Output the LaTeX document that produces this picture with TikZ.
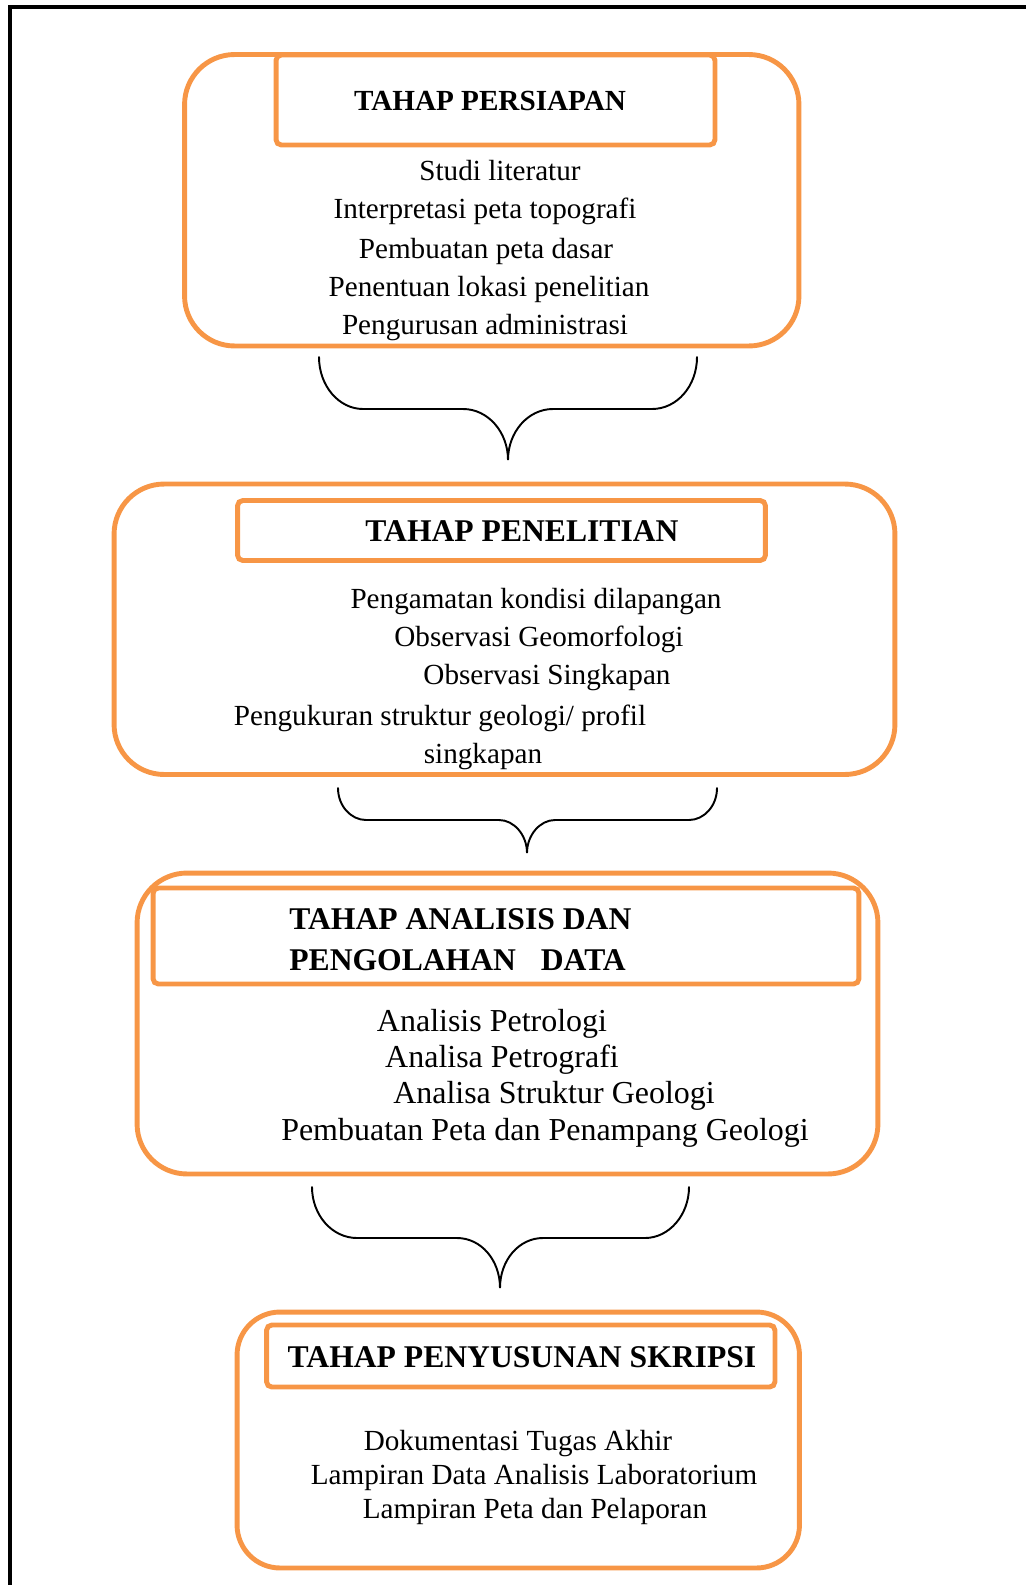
\documentclass[tikz,border=0pt]{standalone}
\usepackage{fontspec}
\setmainfont{Liberation Serif}
\usetikzlibrary{positioning}
\definecolor{phaseorange}{RGB}{247,150,70}

\begin{document}
\begin{tikzpicture}[x=0.02cm,y=-0.02cm,
    phase/.style={draw=phaseorange,line width=2.8pt,rounded corners=1cm,inner sep=0pt},
    phasetitle/.style={draw=phaseorange,line width=2.8pt,rounded corners=3pt,inner sep=0pt},
    phasehead/.style={anchor=base,inner sep=0pt,font=\fontsize{18}{21}\selectfont\bfseries},
    phaseitem/.style={anchor=base,inner sep=0pt,font=\fontsize{16.6}{20}\selectfont},
    brace/.style={line width=1.1pt,line cap=round}
  ]
    \useasboundingbox (0,0) rectangle (1026,1585);
    \draw[line width=2.3pt] (10,1585) -- (10,7) -- (1026,7);

    \node[phase,minimum width=12.29cm,minimum height=5.83cm] (persiapan) at (491.75,200.25) {};
    \node[phasetitle,minimum width=8.78cm,minimum height=1.80cm] (tpersiapan) at (495.5,100) {};
    \node[phasehead,font=\fontsize{16.6}{20}\selectfont\bfseries] (hpersiapan) at (490,111) {TAHAP PERSIAPAN};
    \node[phaseitem] (p1) at (500,180) {Studi literatur};
    \node[phaseitem] (p2) at (485,218) {Interpretasi peta topografi};
    \node[phaseitem] (p3) at (486,258) {Pembuatan peta dasar};
    \node[phaseitem] (p4) at (489,296) {Penentuan lokasi penelitian};
    \node[phaseitem] (p5) at (485,334) {Pengurusan administrasi};

    \draw[brace] (319,357) .. controls (319,386) and (339,409) .. (363,409) -- (463,409)
      .. controls (488,409) and (508,432) .. (508,460)
      .. controls (508,432) and (528,409) .. (553,409) -- (652,409)
      .. controls (677,409) and (697,386) .. (697,357);

    \node[phase,minimum width=15.62cm,minimum height=5.81cm] (penelitian) at (504.5,629.25) {};
    \node[phasetitle,minimum width=10.56cm,minimum height=1.20cm] (tpenelitian) at (501.5,530.5) {};
    \node[phasehead] (hpenelitian) at (522,541) {TAHAP PENELITIAN};
    \node[phaseitem] (n1) at (536,608) {Pengamatan kondisi dilapangan};
    \node[phaseitem] (n2) at (539,646) {Observasi Geomorfologi};
    \node[phaseitem] (n3) at (547,684) {Observasi Singkapan};
    \node[phaseitem] (n4) at (440,725) {Pengukuran struktur geologi/ profil};
    \node[phaseitem] (n5) at (483,763) {singkapan};

    \draw[brace] (338,788) .. controls (338,806) and (351,820) .. (366,820) -- (499,820)
      .. controls (514,820) and (527,835) .. (527,853)
      .. controls (527,835) and (540,820) .. (555,820) -- (689,820)
      .. controls (704,820) and (717,806) .. (717,788);

    \node[phase,minimum width=14.82cm,minimum height=6.02cm] (analisis) at (507.5,1023.5) {};
    \node[phasetitle,minimum width=14.12cm,minimum height=1.92cm] (tanalisis) at (506,936) {};
    \node[phasehead,anchor=base west] (hanalisis1) at (289,929) {TAHAP ANALISIS DAN};
    \node[phasehead,anchor=base west] (hanalisis2) at (289,970) {PENGOLAHAN\hspace{0.34cm} DATA};
    \node[phaseitem,font=\fontsize{18.2}{22}\selectfont] (a1) at (492,1031) {Analisis Petrologi};
    \node[phaseitem,font=\fontsize{18.2}{22}\selectfont] (a2) at (502,1067) {Analisa Petrografi};
    \node[phaseitem,font=\fontsize{18.2}{22}\selectfont] (a3) at (554,1103) {Analisa Struktur Geologi};
    \node[phaseitem,font=\fontsize{18.2}{22}\selectfont] (a4) at (545,1140) {Pembuatan Peta dan Penampang Geologi};

    \draw[brace] (312,1187) .. controls (312,1215) and (332,1238) .. (357,1238) -- (457,1238)
      .. controls (481,1238) and (500,1260) .. (500,1288)
      .. controls (500,1260) and (519,1238) .. (543,1238) -- (645,1238)
      .. controls (669,1238) and (689,1215) .. (689,1187);

    \node[phase,rounded corners=0.86cm,minimum width=11.25cm,minimum height=5.12cm] (skripsi) at (518.25,1440) {};
    \node[phasetitle,minimum width=10.17cm,minimum height=1.24cm] (tskripsi) at (520.75,1356) {};
    \node[phasehead] (hskripsi) at (522,1367) {TAHAP PENYUSUNAN SKRIPSI};
    \node[phaseitem] (k1) at (518,1450) {Dokumentasi Tugas Akhir};
    \node[phaseitem] (k2) at (534,1484) {Lampiran Data Analisis Laboratorium};
    \node[phaseitem] (k3) at (535,1518) {Lampiran Peta dan Pelaporan};
  \end{tikzpicture}
\end{document}
